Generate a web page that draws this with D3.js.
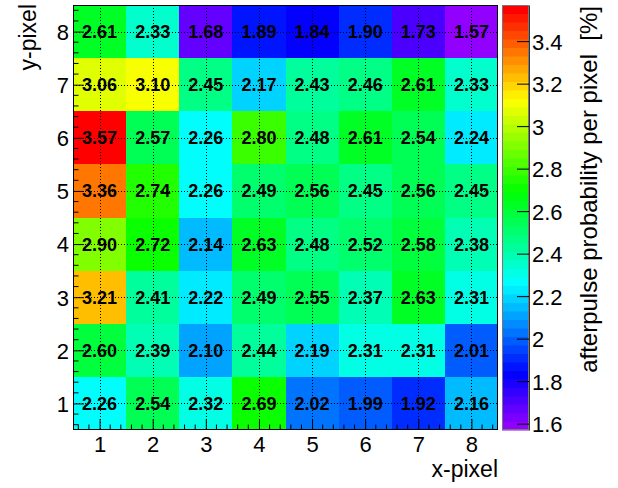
<!DOCTYPE html>
<html>
<head>
<meta charset="utf-8">
<script src="https://cdn.jsdelivr.net/npm/d3@7"></script>
<style>
	body { margin: 0; background: #fff; }
	svg text { font-family: "Liberation Sans", Arial, Helvetica, sans-serif; }
	.cell-label { font-weight: bold; font-size: 18px; }
	.tick-label { font-size: 22px; }
	.axis-title { font-size: 23px; }
</style>
</head>
<body>
<div id="chart"></div>
<script>
// pixel numbers on both axes
var xPixels = [1, 2, 3, 4, 5, 6, 7, 8];
var yPixels = [1, 2, 3, 4, 5, 6, 7, 8];

// afterpulse probability [%], one array per y-pixel row, x-pixel 1..8
var row1 = [2.26, 2.54, 2.32, 2.69, 2.02, 1.99, 1.92, 2.16];
var row2 = [2.60, 2.39, 2.10, 2.44, 2.19, 2.31, 2.31, 2.01];
var row3 = [3.21, 2.41, 2.22, 2.49, 2.55, 2.37, 2.63, 2.31];
var row4 = [2.90, 2.72, 2.14, 2.63, 2.48, 2.52, 2.58, 2.38];
var row5 = [3.36, 2.74, 2.26, 2.49, 2.56, 2.45, 2.56, 2.45];
var row6 = [3.57, 2.57, 2.26, 2.80, 2.48, 2.61, 2.54, 2.24];
var row7 = [3.06, 3.10, 2.45, 2.17, 2.43, 2.46, 2.61, 2.33];
var row8 = [2.61, 2.33, 1.68, 1.89, 1.84, 1.90, 1.73, 1.57];

var colorTicks = [1.6, 1.8, 2, 2.2, 2.4, 2.6, 2.8, 3, 3.2, 3.4];

var xTitle = "x-pixel",
	yTitle = "y-pixel",
	zTitle = "afterpulse probability per pixel\u00a0\u00a0[%]";

//
// Set up
//
var rows = [row1, row2, row3, row4, row5, row6, row7, row8];
var cells = [];
rows.forEach(function(r, j) {
	r.forEach(function(v, i) {
		cells.push({ x: xPixels[i], y: yPixels[j], v: v });
	});
});

var frame = { left: 73, right: 498, top: 5, bottom: 430 };
var bar = { left: 502, right: 529 };
var nColors = 50;

var svg = d3.select("#chart").append("svg")
	.attr("width", 618)
	.attr("height", 488);

var x = d3.scaleLinear().domain([0.5, 8.5]).range([frame.left, frame.right]);
var y = d3.scaleLinear().domain([0.5, 8.5]).range([frame.bottom, frame.top]);

var zExtent = d3.extent(cells, function(d) { return d.v; });
var z = d3.scaleLinear().domain(zExtent).range([frame.bottom, frame.top]);

// ROOT "pretty" palette: 50 hues from violet down to red
function paletteColor(i) {
	var hue = 280 - (i + 1) * (280 / nColors);
	return d3.hsl(hue, 1, 0.5).toString();
}
function colorIndex(v) {
	var i = Math.floor((v - zExtent[0]) / (zExtent[1] - zExtent[0]) * nColors);
	return Math.max(0, Math.min(nColors - 1, i));
}

//
// Cells
//
svg.append("g").selectAll("rect.cell")
	.data(cells)
	.enter()
	.append("rect")
	.attr("class", "cell")
	.attr("x", function(d) { return x(d.x - 0.5); })
	.attr("y", function(d) { return y(d.y + 0.5); })
	.attr("width", function(d) { return x(d.x + 0.5) - x(d.x - 0.5); })
	.attr("height", function(d) { return y(d.y - 0.5) - y(d.y + 0.5); })
	.attr("fill", function(d) { return paletteColor(colorIndex(d.v)); })
	.attr("shape-rendering", "crispEdges");

// dotted grid at the pixel centres
var grid = svg.append("g")
	.attr("stroke", "#000")
	.attr("stroke-width", 1)
	.attr("stroke-dasharray", "1,2");
grid.selectAll("line.gx")
	.data(xPixels)
	.enter()
	.append("line")
	.attr("x1", function(d) { return Math.round(x(d)) + 0.5; })
	.attr("x2", function(d) { return Math.round(x(d)) + 0.5; })
	.attr("y1", frame.top)
	.attr("y2", frame.bottom);
grid.selectAll("line.gy")
	.data(yPixels)
	.enter()
	.append("line")
	.attr("y1", function(d) { return Math.round(y(d)) + 0.5; })
	.attr("y2", function(d) { return Math.round(y(d)) + 0.5; })
	.attr("x1", frame.left)
	.attr("x2", frame.right);

// values written in the cells
svg.append("g").selectAll("text.cell-label")
	.data(cells)
	.enter()
	.append("text")
	.attr("class", "cell-label")
	.attr("x", function(d) { return x(d.x); })
	.attr("y", function(d) { return y(d.y) + 6.5; })
	.attr("text-anchor", "middle")
	.text(function(d) { return d.v.toFixed(2); });

//
// Axes
//
var minorTicks = d3.range(0.6, 8.45, 0.2).filter(function(t) {
	return Math.abs(t - Math.round(t)) > 0.01;
});

var xAxis = svg.append("g")
	.attr("transform", "translate(0," + frame.bottom + ")")
	.call(d3.axisBottom(x).tickValues(xPixels).tickSizeInner(-11).tickSizeOuter(0))
	.call(function(g) {
		g.select(".domain").remove();
		g.selectAll(".tick text").attr("class", "tick-label").attr("fill", "#000").attr("dy", "0.71em").attr("y", 6);
	});
xAxis.selectAll("line.minor")
	.data(minorTicks)
	.enter()
	.append("line")
	.attr("class", "minor")
	.attr("x1", function(d) { return x(d); })
	.attr("x2", function(d) { return x(d); })
	.attr("y1", 0)
	.attr("y2", -5.5)
	.attr("stroke", "#000");

var yAxis = svg.append("g")
	.attr("transform", "translate(" + frame.left + ",0)")
	.call(d3.axisLeft(y).tickValues(yPixels).tickSizeInner(-11).tickSizeOuter(0))
	.call(function(g) {
		g.select(".domain").remove();
		g.selectAll(".tick text").attr("class", "tick-label").attr("fill", "#000").attr("x", -4).attr("dy", "0.36em");
	});
yAxis.selectAll("line.minor")
	.data(minorTicks)
	.enter()
	.append("line")
	.attr("class", "minor")
	.attr("y1", function(d) { return y(d); })
	.attr("y2", function(d) { return y(d); })
	.attr("x1", 0)
	.attr("x2", 5.5)
	.attr("stroke", "#000");

// frame
svg.append("rect")
	.attr("x", frame.left + 0.5)
	.attr("y", frame.top + 0.5)
	.attr("width", frame.right - frame.left - 1)
	.attr("height", frame.bottom - frame.top - 1)
	.attr("fill", "none")
	.attr("stroke", "#000");

svg.append("text")
	.attr("class", "axis-title")
	.attr("x", frame.right)
	.attr("y", 477)
	.attr("text-anchor", "end")
	.text(xTitle);

svg.append("text")
	.attr("class", "axis-title")
	.attr("transform", "translate(36," + 4 + ") rotate(-90)")
	.attr("text-anchor", "end")
	.text(yTitle);

//
// Colour bar
//
var bands = d3.range(nColors);
var bandH = (frame.bottom - frame.top) / nColors;
svg.append("g").selectAll("rect.band")
	.data(bands)
	.enter()
	.append("rect")
	.attr("class", "band")
	.attr("x", bar.left)
	.attr("width", bar.right - bar.left)
	.attr("y", function(i) { return frame.bottom - (i + 1) * bandH; })
	.attr("height", bandH + 0.5)
	.attr("fill", function(i) { return paletteColor(i); });

svg.append("rect")
	.attr("x", bar.left + 0.5)
	.attr("y", frame.top + 0.5)
	.attr("width", bar.right - bar.left - 1)
	.attr("height", frame.bottom - frame.top - 1)
	.attr("fill", "none")
	.attr("stroke", "#777");

svg.append("g")
	.attr("transform", "translate(" + bar.right + ",0)")
	.call(d3.axisRight(z).tickValues(colorTicks).tickSizeInner(-12).tickSizeOuter(0)
		.tickFormat(function(d) { return String(+d.toFixed(1)); }))
	.call(function(g) {
		g.select(".domain").attr("stroke", "#333");
		g.selectAll(".tick text").attr("class", "tick-label").attr("fill", "#000").attr("x", 3).attr("dy", "0.36em");
	});

svg.append("text")
	.attr("class", "axis-title")
	.attr("transform", "translate(597," + 6 + ") rotate(-90)")
	.attr("text-anchor", "end")
	.style("font-size", "24px")
	.text(zTitle);
</script>
</body>
</html>
